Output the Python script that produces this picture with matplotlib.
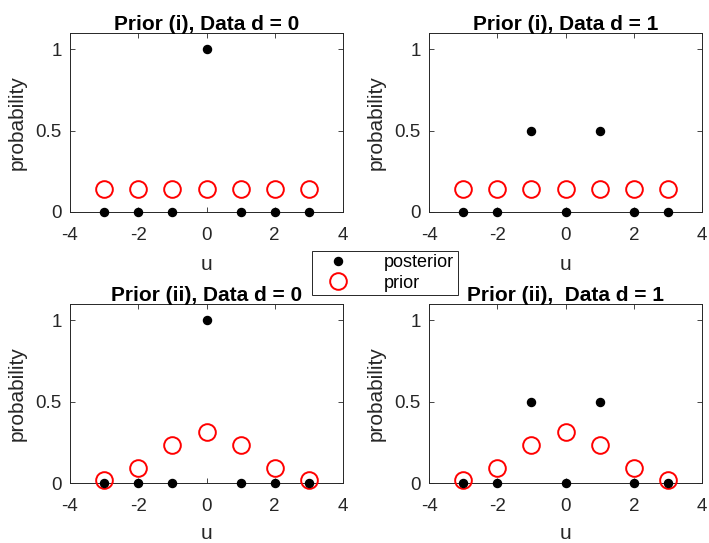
import matplotlib
matplotlib.use("Agg")
import matplotlib.pyplot as plt
from matplotlib.lines import Line2D

plt.rcParams['font.family'] = ['Liberation Sans', 'DejaVu Sans']

u = [-3, -2, -1, 0, 1, 2, 3]
prior_i = [0.143, 0.143, 0.143, 0.143, 0.143, 0.143, 0.143]
prior_ii = [0.016, 0.094, 0.234, 0.3125, 0.234, 0.094, 0.016]
post_d0 = [0, 0, 0, 1, 0, 0, 0]
post_d1 = [0, 0, 0.5, 0, 0.5, 0, 0]
titles = ["Prior (i), Data d = 0", "Prior (i), Data d = 1",
          "Prior (ii), Data d = 0", "Prior (ii),  Data d = 1"]
xticks = [-4, -2, 0, 2, 4]
yticks = [0, 0.5, 1]
ytick_labels = ["0", "0.5", "1"]

panels = [(prior_i, post_d0), (prior_i, post_d1), (prior_ii, post_d0), (prior_ii, post_d1)]

fig = plt.figure(figsize=(7.09, 5.43), dpi=100)
W, H = 709, 543
lefts = [70, 429]
tops = [33, 304]
aw, ah = 273, 179
dark = '#262626'

for k, (prior, post) in enumerate(panels):
    r, c = divmod(k, 2)
    ax = fig.add_axes([lefts[c] / W, (H - tops[r] - ah) / H, aw / W, ah / H])
    ax.plot(u, prior, 'o', markerfacecolor='none', markeredgecolor='red', markeredgewidth=1.4,
            markersize=12, linestyle='none', clip_on=False, zorder=3)
    ax.plot(u, post, 'o', color='black', markersize=5.8, linestyle='none', clip_on=False, zorder=4)
    ax.set_xlim(-4, 4)
    ax.set_ylim(0, 1.1)
    ax.set_xticks(xticks)
    ax.set_xticklabels([str(t) for t in xticks])
    ax.set_yticks(yticks)
    ax.set_yticklabels(ytick_labels)
    ax.tick_params(direction='in', top=True, right=True, length=3.5, width=0.6,
                   colors=dark, labelsize=13.5, labelcolor=dark)
    ax.tick_params(axis='x', pad=10.5)
    ax.tick_params(axis='y', pad=6)
    for s in ax.spines.values():
        s.set_color(dark)
        s.set_linewidth(0.7)
    ax.set_xlabel('u', fontsize=15, color=dark, labelpad=8.5 if r == 0 else 6.5)
    ax.set_ylabel('probability', fontsize=15, color=dark, labelpad=6)
    ax.set_title(titles[k], fontsize=15, fontweight='bold', color='black', pad=2)

handles = [Line2D([], [], marker='o', color='black', linestyle='none', markersize=5.8),
           Line2D([], [], marker='o', markerfacecolor='none', markeredgecolor='red',
                  markeredgewidth=1.4, markersize=12, linestyle='none')]
leg = fig.legend(handles, ['posterior', 'prior'], loc='center',
                 bbox_to_anchor=(385 / W, 1 - 273 / H), fontsize=13,
                 frameon=True, fancybox=False, edgecolor=dark, framealpha=1,
                 handlelength=2.5, borderpad=0.2, labelspacing=0.2, handletextpad=1.3,
                 borderaxespad=0)
leg.get_frame().set_linewidth(0.7)
leg.set_zorder(10)

fig.savefig('out.png', dpi=100)
